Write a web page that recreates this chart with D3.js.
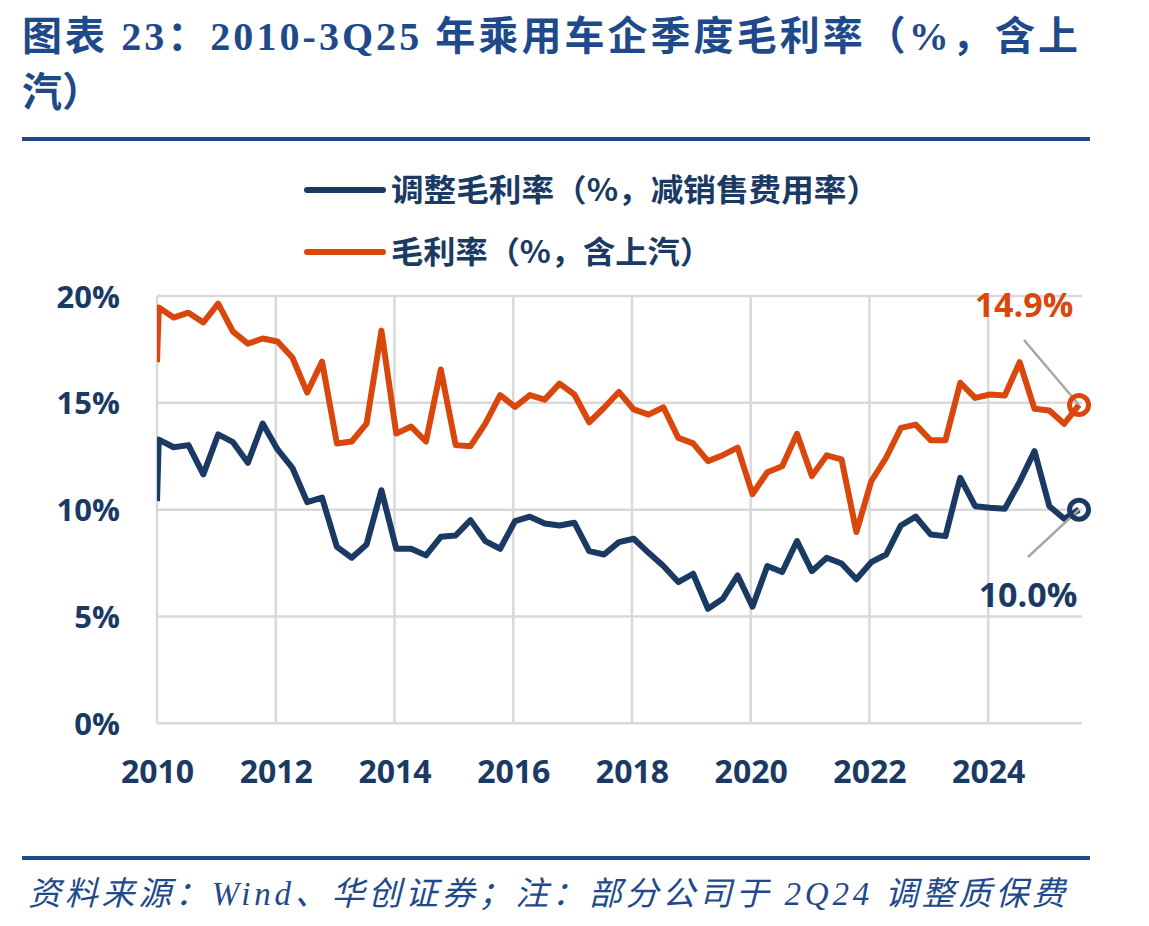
<!DOCTYPE html>
<html>
<head>
<meta charset="utf-8">
<script src="https://cdn.jsdelivr.net/npm/d3@7"></script>
<style>
  body { margin: 0; background: #fff; }
  svg { display: block; }
</style>
</head>
<body>
<div id="chart"></div>
<script>
// quarterly series, 1Q10 .. 3Q25
const quarters = d3.range(63).map(i => 2010 + Math.floor(i / 4) + (i % 4) / 4);

// 调整毛利率（%，减销售费用率）
const adjusted = [
  13.28, 12.92, 13.02, 11.65,  13.52, 13.16, 12.19, 14.03,
  12.82, 11.96, 10.35, 10.56,   8.26,  7.75,  8.37, 10.91,
   8.17,  8.17,  7.86,  8.73,   8.79,  9.51,  8.53,  8.17,
   9.46,  9.67,  9.35,  9.26,   9.39,  8.06,  7.90,  8.48,
   8.64,  7.98,  7.36,  6.61,   7.00,  5.36,  5.83,  6.92,
   5.46,  7.36,  7.08,  8.53,   7.12,  7.75,  7.48,  6.74,
   7.54,  7.90,  9.26,  9.67,   8.84,  8.76, 11.49, 10.16,
  10.09, 10.04, 11.30, 12.74,  10.16,  9.57, 10.0
];

// 毛利率（%，含上汽）
const gross = [
  19.46, 18.99, 19.22, 18.76,  19.64, 18.33, 17.77, 18.01,
  17.87, 17.12, 15.48, 16.93,  13.10, 13.19, 14.03, 18.38,
  13.56, 13.89, 13.19, 16.56,  13.02, 12.97, 14.03, 15.36,
  14.81, 15.36, 15.15, 15.90,  15.39, 14.09, 14.77, 15.51,
  14.69, 14.45, 14.79, 13.36,  13.10, 12.27, 12.55, 12.90,
  10.73, 11.75, 12.03, 13.55,  11.57, 12.54, 12.35,  8.95,
  11.33, 12.43, 13.83, 13.98,  13.25, 13.25, 15.94, 15.23,
  15.39, 15.34, 16.90, 14.72,  14.64, 14.02, 14.9
];

// value where each line enters at the left edge of the plot
const edgeAdjusted = 10.4;
const edgeGross = 16.9;

const yTicks = [0, 5, 10, 15, 20];
const xTicks = [2010, 2012, 2014, 2016, 2018, 2020, 2022, 2024];

const titleLines = ["图表 23：2010-3Q25 年乘用车企季度毛利率（%，含上", "汽）"];
const legendLabels = ["调整毛利率（%，减销售费用率）", "毛利率（%，含上汽）"];
const sourceText = "资料来源：Wind、华创证券；注：部分公司于 2Q24 调整质保费";

const width = 1149, height = 926;
const navy = "#1b3a63", orange = "#da470d", grid = "#d9d9d9", ruleBlue = "#1f4a8a";
const cjk = "'Noto Sans CJK SC', 'Noto Sans', sans-serif";

let svg = d3.select("#chart").append("svg")
  .attr("width", width)
  .attr("height", height);

// Title
svg.selectAll(".title")
  .data(titleLines)
  .enter().append("text")
  .attr("class", "title")
  .attr("x", 22)
  .attr("y", (d, i) => 50 + i * 56)
  .attr("font-family", "'Liberation Serif', " + cjk)
  .attr("font-weight", 700)
  .attr("font-size", 40)
  .attr("fill", ruleBlue)
  .attr("textLength", (d, i) => i === 0 ? 1056 : null)
  .attr("lengthAdjust", "spacing")
  .text(d => d);

svg.append("rect").attr("x", 22).attr("y", 137).attr("width", 1068).attr("height", 4).attr("fill", ruleBlue);
svg.append("rect").attr("x", 22).attr("y", 856).attr("width", 1068).attr("height", 4).attr("fill", ruleBlue);

svg.append("text")
  .attr("x", 28)
  .attr("y", 905)
  .attr("font-family", "'Liberation Serif', " + cjk)
  .attr("font-style", "italic")
  .attr("font-size", 33)
  .attr("fill", ruleBlue)
  .attr("textLength", 1037)
  .attr("lengthAdjust", "spacing")
  .text(sourceText);

// Scales
let x = d3.scaleLinear().domain([2010, 2025.58]).range([157, 1082]);
let y = d3.scaleLinear().domain([0, 20]).range([723.3, 296]);

// Gridlines
let gridLayer = svg.append("g");
gridLayer.selectAll(".hgrid")
  .data(yTicks)
  .enter().append("line")
  .attr("x1", x(2010)).attr("x2", x.range()[1])
  .attr("y1", d => y(d)).attr("y2", d => y(d))
  .attr("stroke", grid).attr("stroke-width", 2.5);

gridLayer.selectAll(".vgrid")
  .data(xTicks)
  .enter().append("line")
  .attr("x1", d => x(d)).attr("x2", d => x(d))
  .attr("y1", y(20)).attr("y2", y(0))
  .attr("stroke", grid).attr("stroke-width", 2.5);

// Axes (labels only, lines come from the grid)
let yAxis = svg.append("g")
  .attr("transform", "translate(120,0)")
  .call(d3.axisLeft(y).tickValues(yTicks).tickSize(0).tickPadding(0).tickFormat(d => d + "%"));

let xAxis = svg.append("g")
  .attr("transform", "translate(0,771)")
  .call(d3.axisBottom(x).tickValues(xTicks).tickSize(0).tickPadding(0).tickFormat(d3.format("d")));

[yAxis, xAxis].forEach(ax => {
  ax.select(".domain").remove();
  ax.selectAll("text")
    .attr("font-family", "'Open Sans', 'Noto Sans', sans-serif")
    .attr("font-weight", 700)
    .attr("font-size", 31)
    .attr("fill", navy)
    .attr("dy", "0.36em");
});
xAxis.selectAll("text").attr("font-size", 32);

// Lines, clipped to the plot
svg.append("clipPath").attr("id", "plot-clip")
  .append("rect")
  .attr("x", x(2010)).attr("y", 0)
  .attr("width", 1149 - x(2010)).attr("height", height);

let line = d3.line().x(d => x(d[0])).y(d => y(d[1]));

const series = [
  { values: adjusted, edge: edgeAdjusted, color: navy },
  { values: gross, edge: edgeGross, color: orange }
];

let lineLayer = svg.append("g").attr("clip-path", "url(#plot-clip)");
series.forEach(s => {
  let pts = [[2010, s.edge]].concat(quarters.map((q, i) => [q + 0.03, s.values[i]]));
  lineLayer.append("path")
    .datum(pts)
    .attr("d", line)
    .attr("fill", "none")
    .attr("stroke", s.color)
    .attr("stroke-width", 6)
    .attr("stroke-linejoin", "round");
});

// Latest value markers and callouts
const lastX = quarters[quarters.length - 1] + 0.03;
const callouts = [
  { value: gross[gross.length - 1], color: orange, from: [1024, 340], label: [1024, 305] },
  { value: adjusted[adjusted.length - 1], color: navy, from: [1028, 557], label: [1028, 595] }
];

callouts.forEach(c => {
  svg.append("line")
    .attr("x1", c.from[0]).attr("y1", c.from[1])
    .attr("x2", x(lastX)).attr("y2", y(c.value))
    .attr("stroke", "#a6a6a6").attr("stroke-width", 2.5);
  svg.append("circle")
    .attr("cx", x(lastX)).attr("cy", y(c.value))
    .attr("r", 9.5)
    .attr("fill", "none")
    .attr("stroke", c.color)
    .attr("stroke-width", 5);
  svg.append("text")
    .attr("x", c.label[0]).attr("y", c.label[1])
    .attr("dy", "0.36em")
    .attr("text-anchor", "middle")
    .attr("font-family", "'Open Sans', 'Noto Sans', sans-serif")
    .attr("font-weight", 700)
    .attr("font-size", 34)
    .attr("fill", c.color)
    .text(c.value.toFixed(1) + "%");
});

// Legend
const legendWidths = [488, 321];
let legend = svg.append("g");
series.forEach((s, i) => {
  let ly = 190 + i * 62;
  legend.append("line")
    .attr("x1", 307).attr("x2", 383)
    .attr("y1", ly).attr("y2", ly)
    .attr("stroke", s.color).attr("stroke-width", 6)
    .attr("stroke-linecap", "round");
  legend.append("text")
    .attr("x", 391).attr("y", ly)
    .attr("dy", "0.36em")
    .attr("font-family", cjk)
    .attr("font-weight", 700)
    .attr("font-size", 31)
    .attr("fill", navy)
    .attr("textLength", legendWidths[i])
    .attr("lengthAdjust", "spacingAndGlyphs")
    .text(legendLabels[i]);
});
</script>
</body>
</html>
